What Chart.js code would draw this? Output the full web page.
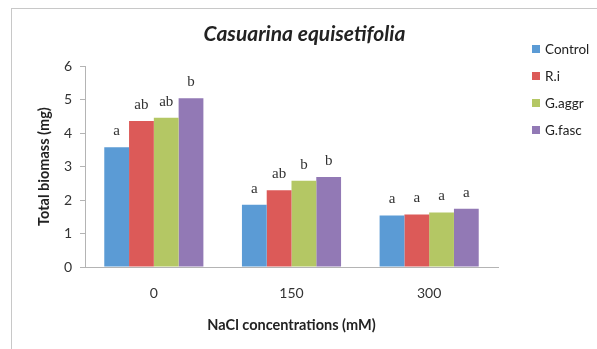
<!DOCTYPE html>
<html>
<head>
<meta charset="utf-8">
<script src="https://cdn.jsdelivr.net/npm/chart.js@4"></script>
<style>
  body { margin: 0; background: #fff; }
  #wrap { position: relative; width: 597px; height: 349px; }
  #frame { position: absolute; left: 11px; top: 8px; right: -2px; bottom: -2px; border: 1px solid #c8c8c8; border-right: none; border-bottom: none; }
  #legend-container { position: absolute; left: 532px; top: 35px; }
</style>
</head>
<body>
<div id="wrap">
  <div id="frame"></div>
  <canvas id="biomass" width="597" height="349"></canvas>
  <div id="legend-container"></div>
</div>
<script>
const categories = ['0', '150', '300'];
const seriesNames = ['Control', 'R.i', 'G.aggr', 'G.fasc'];
const control = [3.58, 1.86, 1.54];
const ri = [4.36, 2.29, 1.57];
const gaggr = [4.46, 2.58, 1.63];
const gfasc = [5.04, 2.69, 1.74];
const controlLetters = ['a', 'a', 'a'];
const riLetters = ['ab', 'ab', 'a'];
const gaggrLetters = ['ab', 'b', 'a'];
const gfascLetters = ['b', 'b', 'a'];
const yTicks = [0, 1, 2, 3, 4, 5, 6];

const colors = ['#5b9bd5', '#dc5a58', '#b4c764', '#9279b5'];
const values = [control, ri, gaggr, gfasc];
const letters = [controlLetters, riLetters, gaggrLetters, gfascLetters];

// letters above the bars
const letterPlugin = {
  id: 'barLetters',
  afterDatasetsDraw(chart) {
    const ctx = chart.ctx;
    ctx.save();
    ctx.font = '15px "Liberation Serif", "DejaVu Serif", serif';
    ctx.fillStyle = '#333';
    ctx.textAlign = 'center';
    ctx.textBaseline = 'alphabetic';
    chart.data.datasets.forEach((ds, i) => {
      chart.getDatasetMeta(i).data.forEach((bar, j) => {
        ctx.fillText(ds.letters[j], bar.x, bar.y - 12);
      });
    });
    ctx.restore();
  }
};

// legend drawn as html list
const htmlLegendPlugin = {
  id: 'htmlLegend',
  afterUpdate(chart, args, options) {
    const box = document.getElementById(options.containerID);
    box.innerHTML = '';
    const ul = document.createElement('ul');
    ul.style.listStyle = 'none';
    ul.style.margin = 0;
    ul.style.padding = 0;
    const items = chart.options.plugins.legend.labels.generateLabels(chart);
    items.forEach(item => {
      const li = document.createElement('li');
      li.style.display = 'flex';
      li.style.alignItems = 'center';
      li.style.height = '27px';

      const sw = document.createElement('span');
      sw.style.display = 'inline-block';
      sw.style.width = '8px';
      sw.style.height = '8px';
      sw.style.background = item.fillStyle;
      sw.style.marginRight = '5px';

      const txt = document.createElement('span');
      txt.style.font = '13.5px Lato, sans-serif';
      txt.style.color = '#222';
      txt.textContent = item.text;

      li.appendChild(sw);
      li.appendChild(txt);
      ul.appendChild(li);
    });
    box.appendChild(ul);
  }
};

new Chart(document.getElementById('biomass'), {
  type: 'bar',
  data: {
    labels: categories,
    datasets: seriesNames.map((name, i) => ({
      label: name,
      data: values[i],
      letters: letters[i],
      backgroundColor: colors[i],
      borderWidth: 0,
      categoryPercentage: 0.72,
      barPercentage: 1.0
    }))
  },
  options: {
    responsive: false,
    animation: false,
    layout: { padding: { left: 12, right: 0, top: 0, bottom: 10 } },
    plugins: {
      legend: { display: false },
      tooltip: { enabled: false },
      htmlLegend: { containerID: 'legend-container' },
      title: {
        display: true,
        text: 'Casuarina equisetifolia',
        color: '#222',
        font: { family: 'Lato', size: 21, style: 'italic' },
        padding: { top: 22, bottom: 19 }
      }
    },
    scales: {
      x: {
        grid: { display: false, drawTicks: false },
        border: { color: '#b4b4b4' },
        ticks: { color: '#333', font: { family: 'Lato', size: 14 }, padding: 18 },
        title: {
          display: true,
          text: 'NaCl concentrations (mM)',
          color: '#222',
          font: { family: 'Lato', size: 14.5, weight: 'bold' },
          padding: { top: 0, bottom: 5 }
        },
        afterFit: s => { s.height = 72; }
      },
      y: {
        min: 0,
        max: 6,
        grid: { drawOnChartArea: false, drawTicks: true, tickLength: 5, color: '#b4b4b4' },
        border: { color: '#b4b4b4' },
        afterBuildTicks: s => { s.ticks = yTicks.map(v => ({ value: v })); },
        ticks: { color: '#333', font: { family: 'Lato', size: 14 }, padding: 8 },
        title: {
          display: true,
          text: 'Total biomass (mg)',
          color: '#222',
          font: { family: 'Lato', size: 14.5, weight: 'bold' },
          padding: { top: 24, bottom: 0 }
        },
        afterFit: s => { s.width = 73; }
      },
      spacer: {
        position: 'right',
        display: true,
        grid: { display: false },
        border: { display: false },
        ticks: { display: false },
        afterFit: s => { s.width = 99; }
      }
    }
  },
  plugins: [letterPlugin, htmlLegendPlugin]
});
</script>
</body>
</html>
